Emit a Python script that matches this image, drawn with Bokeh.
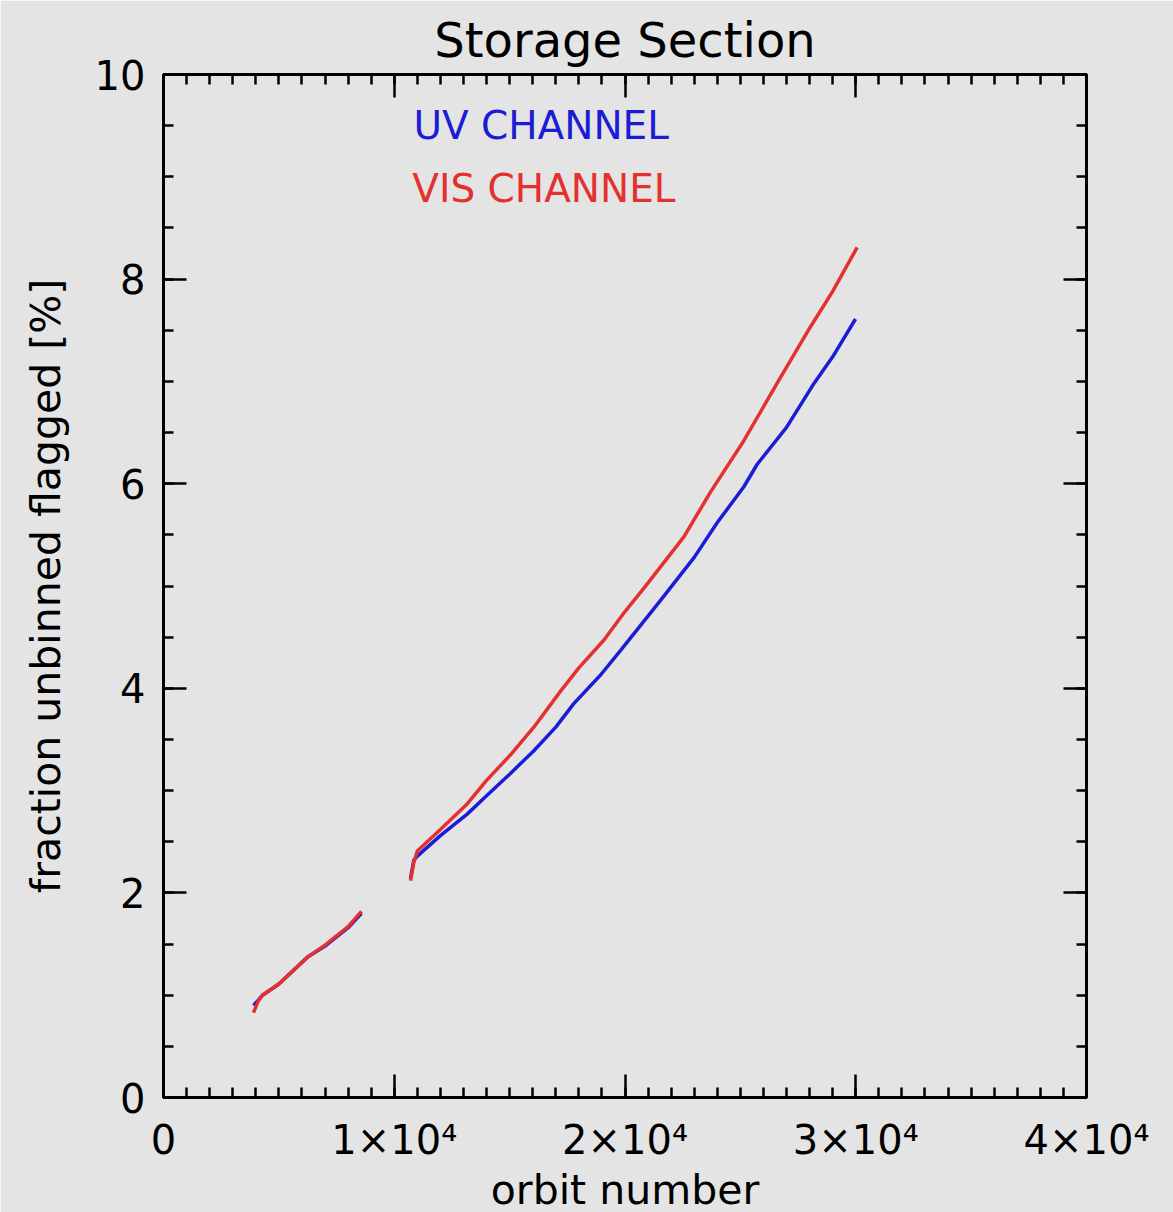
from bokeh.plotting import figure
from bokeh.models import Range1d, FixedTicker, LinearAxis, Label
from bokeh.embed import file_html
from bokeh.resources import INLINE
import numpy as np

# Orbit numbers and flagged fractions (%) for the storage section.
# NaN splits the record into its two observed segments.
uv_orbit = [3900, 4100, 4290, 5000, 6230, 7000, 8000, 8580,
            np.nan,
            10705, 10850, 11000, 12000, 13160, 14000, 15000, 16050, 17000,
            17780, 18940, 19810, 21540, 23000, 24000, 25150, 25730, 27000,
            28190, 29000, 29990]
uv_frac = [0.90, 0.95, 1.00, 1.11, 1.37, 1.48, 1.66, 1.80,
           np.nan,
           2.14, 2.32, 2.36, 2.56, 2.77, 2.95, 3.16, 3.39, 3.62,
           3.85, 4.13, 4.37, 4.86, 5.28, 5.62, 5.97, 6.19, 6.55,
           6.98, 7.24, 7.61]

vis_orbit = [3900, 4100, 4290, 5000, 6230, 7000, 8000, 8580,
             np.nan,
             10705, 10850, 11000, 12000, 13160, 14000, 15000, 16050, 17200,
             18000, 19080, 20000, 21000, 22550, 23710, 25150, 26740, 28000,
             29000, 30060]
vis_frac = [0.83, 0.94, 1.00, 1.11, 1.37, 1.49, 1.67, 1.82,
            np.nan,
            2.12, 2.30, 2.41, 2.62, 2.87, 3.10, 3.34, 3.62, 3.97,
            4.20, 4.47, 4.75, 5.03, 5.48, 5.92, 6.42, 7.04, 7.52,
            7.88, 8.31]

x_major = [0, 10000, 20000, 30000, 40000]
x_labels = ["0", "1×10⁴", "2×10⁴", "3×10⁴", "4×10⁴"]
y_major = [0, 2, 4, 6, 8, 10]
y_labels = ["0", "2", "4", "6", "8", "10"]

BG = "#e4e4e4"
FONT = "DejaVu Sans"

p = figure(frame_width=923, frame_height=1023,
           x_range=Range1d(0, 40000), y_range=Range1d(0, 10),
           output_backend="svg", toolbar_location=None,
           min_border_left=163, min_border_right=87,
           min_border_top=74, min_border_bottom=115,
           background_fill_color=BG, border_fill_color=BG,
           outline_line_color="black", outline_line_width=3)

p.grid.visible = False

p.title.text = "Storage Section"
p.title.align = "center"
p.title.text_font = FONT
p.title.text_font_size = "48px"
p.title.text_font_style = "normal"
p.title.text_color = "black"
p.title.standoff = 14

x_ticker = FixedTicker(ticks=x_major, minor_ticks=list(range(0, 40001, 1000)))
y_ticker = FixedTicker(ticks=y_major, minor_ticks=[k * 0.5 for k in range(21)])


def style_axis(ax, show_labels):
    ax.axis_line_width = 3
    ax.axis_line_color = "black"
    ax.major_tick_in = 23
    ax.major_tick_out = 0
    ax.minor_tick_in = 10
    ax.minor_tick_out = 0
    ax.major_tick_line_width = 2.5
    ax.minor_tick_line_width = 2.5
    ax.major_tick_line_color = "black"
    ax.minor_tick_line_color = "black"
    if show_labels:
        ax.major_label_text_font = FONT
        ax.major_label_text_font_size = "40px"
        ax.major_label_text_color = "black"
        ax.axis_label_text_font = FONT
        ax.axis_label_text_font_size = "41px"
        ax.axis_label_text_font_style = "normal"
        ax.axis_label_text_color = "black"
    else:
        # mirrored tick marks only; labels are not painted
        ax.major_label_text_color = None
        ax.major_label_text_font_size = "1px"
        ax.major_label_standoff = 0


xa = p.xaxis[0]
xa.ticker = x_ticker
xa.major_label_overrides = dict(zip(x_major, x_labels))
xa.axis_label = "orbit number"
style_axis(xa, True)
xa.major_label_standoff = 19
xa.axis_label_standoff = 0

ya = p.yaxis[0]
ya.ticker = y_ticker
ya.major_label_overrides = dict(zip(y_major, y_labels))
ya.axis_label = "fraction unbinned flagged [%]"
style_axis(ya, True)
ya.major_label_standoff = 18
ya.major_label_orientation = "horizontal"
ya.axis_label_standoff = 22

top = LinearAxis(ticker=x_ticker)
style_axis(top, False)
p.add_layout(top, "above")

right = LinearAxis(ticker=y_ticker)
style_axis(right, False)
p.add_layout(right, "right")

p.line(uv_orbit, uv_frac, line_color="#1c1cd6", line_width=3.5)
p.line(vis_orbit, vis_frac, line_color="#e4302e", line_width=3.5)

p.add_layout(Label(x=10830, y=9.50, text="UV CHANNEL", text_font=FONT,
                   text_font_size="39px", text_color="#1c1cd6",
                   text_baseline="alphabetic"))
p.add_layout(Label(x=10780, y=8.89, text="VIS CHANNEL", text_font=FONT,
                   text_font_size="39px", text_color="#e4302e",
                   text_baseline="alphabetic"))

open("out.html", "w").write(file_html(p, INLINE))
